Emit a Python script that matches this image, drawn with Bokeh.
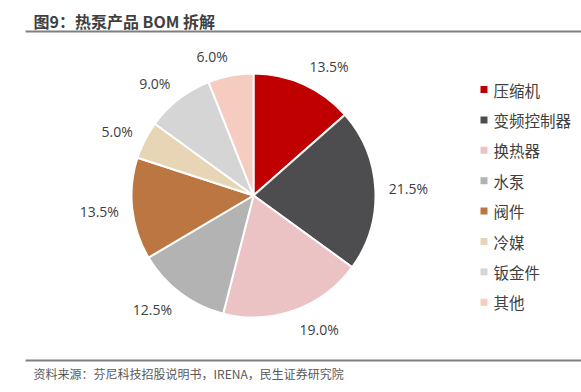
import math
from bokeh.plotting import figure
from bokeh.models import ColumnDataSource, Range1d
from bokeh.core.properties import value
from bokeh.embed import file_html
from bokeh.resources import INLINE

# ---- data ----
categories = ["压缩机", "变频控制器", "换热器", "水泵", "阀件", "冷媒", "钣金件", "其他"]
shares = [13.5, 21.5, 19.0, 12.5, 13.5, 5.0, 9.0, 6.0]
colors = ["#C00000", "#4D4D4F", "#EBC3C4", "#B3B3B3", "#BC7642", "#E8D5B5", "#D5D5D5", "#F6CCC1"]
title_text = "图9：热泵产品 BOM 拆解"
source_text = "资料来源：芬尼科技招股说明书，IRENA，民生证券研究院"

# ---- layout (page pixel coordinates; data y = 392 - screen y) ----
W, H = 581, 392
def sy(y):
    return 392 - y

cx, cy, R = 253, sy(195), 122
CJK = "Noto Sans CJK SC"
TXT = "#404040"

p = figure(width=W, height=H, x_range=Range1d(0, W), y_range=Range1d(392 - H, 392),
           output_backend="svg", toolbar_location=None, min_border=0)
p.axis.visible = False
p.grid.visible = False
p.outline_line_color = None
p.background_fill_color = "white"
p.border_fill_color = "white"

# pie wedges
total = sum(shares)
starts, ends, mids = [], [], []
cum = 0.0
for s in shares:
    a0 = cum / total * 2 * math.pi
    cum += s
    a1 = cum / total * 2 * math.pi
    starts.append(math.pi / 2 - a0)
    ends.append(math.pi / 2 - a1)
    mids.append((a0 + a1) / 2)

src = ColumnDataSource(dict(start=starts, end=ends, color=colors, cat=categories))
p.wedge(x=cx, y=cy, radius=R, start_angle="start", end_angle="end", direction="clock",
        fill_color="color", line_color="white", line_width=2, source=src)

# outside-end labels
lab = [f"{s:.1f}%" for s in shares]
lx, ly = [], []
for th, t in zip(mids, lab):
    sn, cs = math.sin(th), math.cos(th)
    w = 8 * len(t)
    h = 14
    d = R + 13
    x = cx + d * sn + (w / 2) * (1 if sn >= 0 else -1)
    y = cy + d * cs + (h / 2) * cs
    lx.append(x)
    ly.append(y)
p.text(x=lx, y=ly, text=lab, text_align="center", text_baseline="middle",
       text_font=value("Open Sans"), text_font_size="14px", text_color=TXT)

# legend (manual)
leg_y = [sy(89) - i * 30.4 for i in range(len(categories))]
p.scatter(x=[483.5] * len(categories), y=leg_y, marker="square", size=7,
          fill_color=colors, line_color=None)
p.text(x=[493] * len(categories), y=leg_y, text=categories, text_align="left",
       text_baseline="middle", text_font=value(CJK), text_font_size="15.5px", text_color=TXT)

# title and rules
p.text(x=[33], y=[sy(20)], text=[title_text], text_align="left", text_baseline="middle",
       text_font=value(CJK), text_font_size="16px", text_font_style="bold", text_color="#3F3F3F")
p.segment(x0=[25, 25], y0=[sy(31), sy(360)], x1=[581, 581], y1=[sy(31), sy(360)],
          line_color="#7F7F7F", line_width=2)
p.text(x=[33], y=[sy(373)], text=[source_text], text_align="left", text_baseline="middle",
       text_font=value(CJK), text_font_size="12px", text_color="#595959")

open("out.html", "w").write(file_html(p, INLINE))
